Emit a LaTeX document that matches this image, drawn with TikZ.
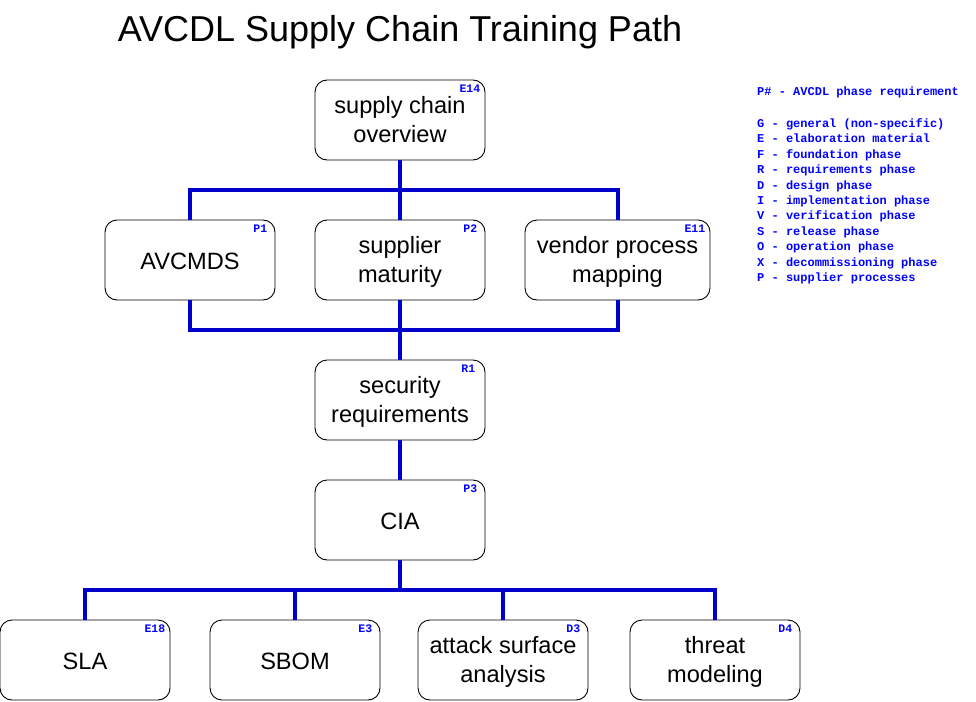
\documentclass[tikz,border=0pt]{standalone}
\usepackage{fontspec}
\setmainfont{Liberation Sans}
\newfontfamily\monob{Liberation Mono}[BoldFont={* Bold}]
\definecolor{conncol}{RGB}{0,0,204}
\definecolor{tagcol}{RGB}{0,0,255}
\newcommand\boxnode[4][]{%
  \node[box,#1] (#2) at (#3) {};
  \node[boxtext] (#2-t) at ([yshift=-4pt]#2.center) {#4};}
\begin{document}
\begin{tikzpicture}[x=1pt,y=-1pt,
  box/.style={draw=black, line width=0.9pt, fill=white, rounded corners=12pt,
    minimum width=170pt, minimum height=80pt, inner sep=0pt},
  boxtext/.style={align=center, inner sep=0pt,
    font=\fontsize{23.6}{29}\selectfont,
    execute at begin node=\strut, execute at end node=\strut},
  conn/.style={draw=conncol, line width=4pt, line join=miter},
  tag/.style={anchor=north east, inner sep=0pt, text=tagcol, font=\monob\bfseries\fontsize{11.5}{12}\selectfont},
  legend/.style={anchor=north west, inner sep=0pt, text=tagcol, align=left,
    font=\monob\bfseries\fontsize{12}{15.4}\selectfont}
  ]
\useasboundingbox[fill=white] (0,0) rectangle (976,701);

\node[anchor=center, inner sep=0pt, font=\fontsize{36}{40}\selectfont] (title) at (400,32) {AVCDL Supply Chain Training Path};

\coordinate (b1) at (400,190);
\coordinate (b2) at (400,330);
\coordinate (b3) at (400,590);

\boxnode{ov}{400,120}{supply chain\\overview}
\boxnode{av}{190,260}{AVCMDS}
\boxnode{sm}{400,260}{supplier\\maturity}
\boxnode[minimum width=185pt]{vp}{617.5,260}{vendor process\\mapping}
\boxnode{sr}{400,400}{security\\requirements}
\boxnode{cia}{400,520}{CIA}
\boxnode{sla}{85,660}{SLA}
\boxnode{sbom}{295,660}{SBOM}
\boxnode{asa}{503,660}{attack surface\\analysis}
\boxnode{tm}{715,660}{threat\\modeling}

\draw[conn] (ov.south) -- (b1);
\draw[conn] (av.north) |- (vp.north |- b1) -- (vp.north);
\draw[conn] (b1) -- (sm.north);
\draw[conn] (av.south) |- (vp.south |- b2) -- (vp.south);
\draw[conn] (sm.south) -- (sr.north);
\draw[conn] (sr.south) -- (cia.north);
\draw[conn] (cia.south) -- (b3);
\draw[conn] (sla.north) |- (tm.north |- b3) -- (tm.north);
\draw[conn] (sbom.north) -- (sbom.north |- b3);
\draw[conn] (asa.north) -- (asa.north |- b3);

\node[tag] (t1) at ([xshift=-5pt,yshift=-5pt]ov.north east) {E14};
\node[tag] (t2) at ([xshift=-8pt,yshift=-5pt]av.north east) {P1};
\node[tag] (t3) at ([xshift=-8pt,yshift=-5pt]sm.north east) {P2};
\node[tag] (t4) at ([xshift=-5pt,yshift=-5pt]vp.north east) {E11};
\node[tag] (t5) at ([xshift=-10pt,yshift=-5pt]sr.north east) {R1};
\node[tag] (t6) at ([xshift=-8pt,yshift=-5pt]cia.north east) {P3};
\node[tag] (t7) at ([xshift=-5pt,yshift=-5pt]sla.north east) {E18};
\node[tag] (t8) at ([xshift=-8pt,yshift=-5pt]sbom.north east) {E3};
\node[tag] (t9) at ([xshift=-8pt,yshift=-5pt]asa.north east) {D3};
\node[tag] (t10) at ([xshift=-8pt,yshift=-5pt]tm.north east) {D4};

\node[legend] (lg1) at (757,87) {P\# - AVCDL phase requirement};
\node[legend] (lg2) at (757,118.5) {G - general (non-specific)\\
E - elaboration material\\
F - foundation phase\\
R - requirements phase\\
D - design phase\\
I - implementation phase\\
V - verification phase\\
S - release phase\\
O - operation phase\\
X - decommissioning phase\\
P - supplier processes};
\end{tikzpicture}
\end{document}
